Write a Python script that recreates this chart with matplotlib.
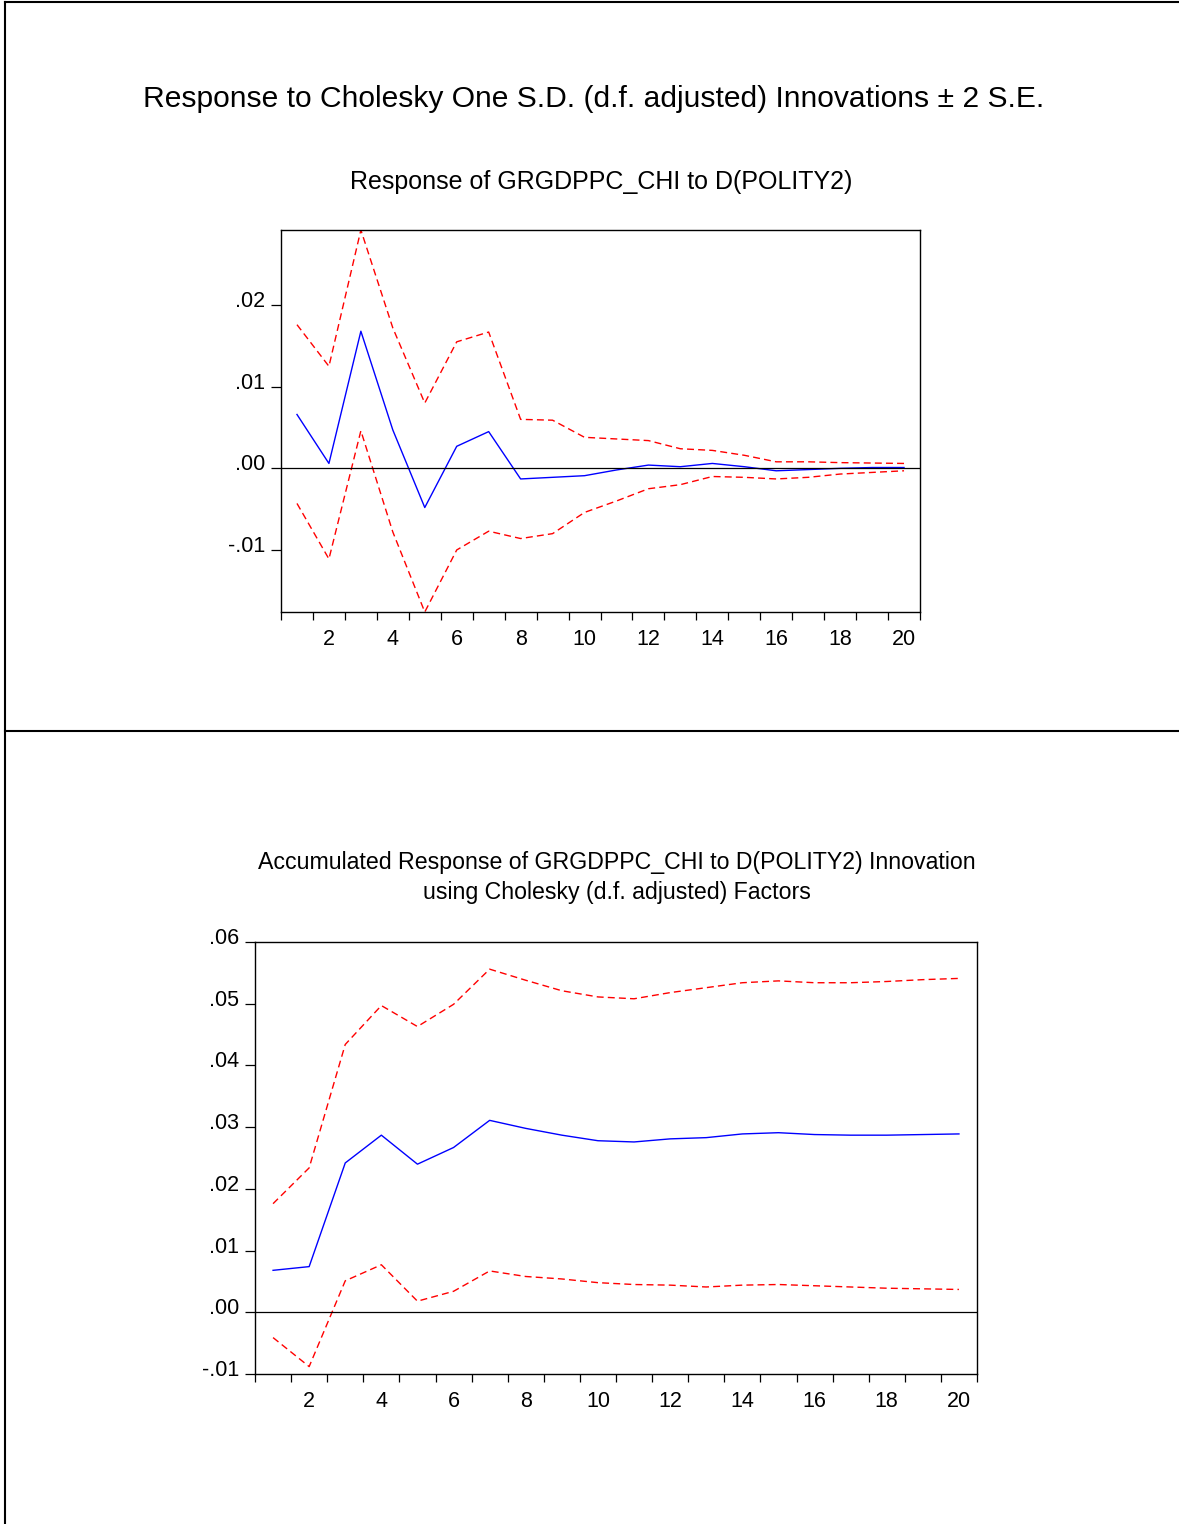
import matplotlib
matplotlib.use("Agg")
import matplotlib.pyplot as plt
import matplotlib.transforms as mtransforms
import numpy as np

plt.rcParams['font.family'] = ['Liberation Sans', 'DejaVu Sans']

# periods
periods = np.arange(1, 21)

# Response of GRGDPPC_CHI to D(POLITY2)
resp = [0.0066, 0.0006, 0.0168, 0.0047, -0.0048, 0.0027, 0.0045, -0.0013, -0.0011, -0.0009,
        -0.0002, 0.0004, 0.0002, 0.0006, 0.0002, -0.0003, -0.00015, 0.0, 0.0001, 0.0001]
resp_hi = [0.0176, 0.0125, 0.0292, 0.0172, 0.0080, 0.0155, 0.0167, 0.0060, 0.0059, 0.0038,
           0.0036, 0.0034, 0.0024, 0.0022, 0.0016, 0.0008, 0.0008, 0.0007, 0.00065, 0.0006]
resp_lo = [-0.0043, -0.0111, 0.0046, -0.0078, -0.0176, -0.0100, -0.0077, -0.0086, -0.0080, -0.0054,
           -0.0040, -0.0025, -0.0020, -0.0010, -0.0011, -0.0013, -0.0011, -0.0007, -0.0005, -0.0003]

# Accumulated response
acc = [0.0068, 0.0074, 0.0242, 0.0287, 0.0240, 0.0267, 0.0311, 0.0298, 0.0287, 0.0278,
       0.0276, 0.0281, 0.0283, 0.0289, 0.0291, 0.0288, 0.0287, 0.0287, 0.0288, 0.0289]
acc_hi = [0.0176, 0.0234, 0.0434, 0.0497, 0.0463, 0.0499, 0.0556, 0.0538, 0.0521, 0.0511,
          0.0508, 0.0518, 0.0526, 0.0534, 0.0537, 0.0534, 0.0534, 0.0536, 0.0539, 0.0541]
acc_lo = [-0.0041, -0.0088, 0.0051, 0.0077, 0.0018, 0.0034, 0.0067, 0.0058, 0.0054, 0.0048,
          0.0045, 0.0044, 0.0041, 0.0044, 0.0045, 0.0043, 0.0041, 0.0039, 0.0038, 0.0037]

W, H = 1179, 1524
fig = plt.figure(figsize=(W / 100, H / 100), dpi=100)


def px_axes(left, top, right, bottom):
    # pixel box -> figure fraction
    return fig.add_axes([left / W, 1 - bottom / H, (right - left) / W, (bottom - top) / H])


def draw_panel(ax, mid, hi, lo, ylim, yticks, ylabels):
    ax.plot(periods, mid, color='blue', lw=1.0)
    ax.plot(periods, hi, color='red', lw=1.0, dashes=(5, 3))
    ax.plot(periods, lo, color='red', lw=1.0, dashes=(5, 3))
    ax.axhline(0, color='black', lw=0.9)
    ax.set_xlim(0.5, 20.5)
    ax.set_ylim(*ylim)
    # ticks between periods, labels on even periods
    ax.set_xticks(np.arange(0.5, 21, 1.0))
    ax.set_xticklabels([])
    ax.set_xticks(np.arange(2, 21, 2), minor=True)
    ax.set_xticklabels([str(i) for i in range(2, 21, 2)], minor=True)
    ax.tick_params(axis='x', which='major', direction='out', length=6, width=0.9)
    ax.tick_params(axis='x', which='minor', length=0, pad=12, labelsize=15.5)
    ax.set_yticks(yticks)
    ax.set_yticklabels(ylabels, va='baseline')
    ax.tick_params(axis='y', direction='out', length=7, width=0.9, pad=4.5, labelsize=15.5)
    # baseline sits a touch below the tick
    shift = mtransforms.ScaledTranslation(0, -2 / 100, fig.dpi_scale_trans)
    for lbl in ax.get_yticklabels():
        lbl.set_transform(lbl.get_transform() + shift)
    for s in ax.spines.values():
        s.set_linewidth(1.0)


ax1 = px_axes(281, 230, 920, 612)
draw_panel(ax1, resp, resp_hi, resp_lo, (-0.0176, 0.0292),
           [-0.01, 0.0, 0.01, 0.02], ['-.01', '.00', '.01', '.02'])

ax2 = px_axes(255, 942, 977, 1374)
draw_panel(ax2, acc, acc_hi, acc_lo, (-0.01, 0.06),
           [-0.01, 0.0, 0.01, 0.02, 0.03, 0.04, 0.05, 0.06],
           ['-.01', '.00', '.01', '.02', '.03', '.04', '.05', '.06'])

# titles
fig.text(594 / W, 1 - 99 / H, 'Response to Cholesky One S.D. (d.f. adjusted) Innovations \u00b1 2 S.E.',
         ha='center', va='center', fontsize=21.6)
fig.text(601 / W, 1 - 182 / H, 'Response of GRGDPPC_CHI to D(POLITY2)',
         ha='center', va='center', fontsize=18)
fig.text(617 / W, 1 - 863 / H, 'Accumulated Response of GRGDPPC_CHI to D(POLITY2) Innovation',
         ha='center', va='center', fontsize=16.7)
fig.text(617 / W, 1 - 893 / H, 'using Cholesky (d.f. adjusted) Factors',
         ha='center', va='center', fontsize=16.7)

# page frame lines
frame_kw = dict(color='black', lw=1.5, transform=fig.transFigure)
fig.add_artist(plt.Line2D([5 / W, 1], [1 - 2 / H, 1 - 2 / H], **frame_kw))
fig.add_artist(plt.Line2D([5 / W, 5 / W], [0, 1 - 2 / H], **frame_kw))
fig.add_artist(plt.Line2D([5 / W, 1], [1 - 731 / H, 1 - 731 / H], **frame_kw))

fig.savefig('out.png', dpi=100)
